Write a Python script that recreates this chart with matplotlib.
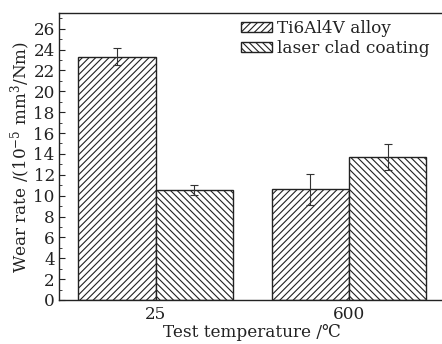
import matplotlib
matplotlib.use("Agg")
import matplotlib.pyplot as plt
import numpy as np
from matplotlib.ticker import MultipleLocator

categories = ["25", "600"]
series_names = ["Ti6Al4V alloy", "laser clad coating"]
ti_values = [23.3, 10.6]
ti_errors = [0.8, 1.5]
laser_values = [10.55, 13.7]
laser_errors = [0.5, 1.2]

plt.rcParams['font.family'] = ['DejaVu Serif']
plt.rcParams['mathtext.fontset'] = 'dejavuserif'
plt.rcParams['hatch.linewidth'] = 0.8
plt.rcParams['hatch.color'] = '#222222'

FS = 12.2

fig = plt.figure(figsize=(4.42, 3.44), dpi=100)
# axes right edge extends past figure (cropped like reference)
ax = fig.add_axes([59/442, (344-300)/344, (445.5-59)/442, (300-13)/344])

x = np.arange(len(categories))
w = 0.4
ax.bar(x - w/2, ti_values, w, yerr=ti_errors, color='white', edgecolor='#222222',
       linewidth=1.0, hatch='/////', label=series_names[0],
       error_kw=dict(ecolor='#333333', elinewidth=0.8, capsize=3, capthick=0.8))
ax.bar(x + w/2, laser_values, w, yerr=laser_errors, color='white', edgecolor='#222222',
       linewidth=1.0, hatch='\\\\\\\\\\', label=series_names[1],
       error_kw=dict(ecolor='#333333', elinewidth=0.8, capsize=3, capthick=0.8))

ax.set_xlim(-0.5, 1.5)
ax.set_ylim(0, 27.5)
ax.set_xticks(x)
ax.set_xticklabels(categories)
ax.yaxis.set_major_locator(MultipleLocator(2))
ax.yaxis.set_minor_locator(MultipleLocator(1))
ax.tick_params(axis='both', which='both', direction='in', labelsize=FS,
               colors='#222222')
ax.tick_params(axis='y', which='major', length=4, pad=3)
ax.tick_params(axis='y', which='minor', length=2.5)
ax.tick_params(axis='x', which='major', length=0, pad=4)
for s in ax.spines.values():
    s.set_color('#222222')
    s.set_linewidth(1.0)
ax.spines['right'].set_visible(False)

ax.set_ylabel("Wear rate /(10$^{-5}$ mm$^3$/Nm)", fontsize=FS, labelpad=0, color='#222222')
ax.set_xlabel("Test temperature /\u2103", fontsize=FS, labelpad=1, color='#222222')

leg = fig.legend(loc='upper left', bbox_to_anchor=(241/442, 1 - 20/344), frameon=False,
                 fontsize=FS, handlelength=1.85, handleheight=0.55,
                 handletextpad=0.3, labelspacing=0.2, borderpad=0.0,
                 borderaxespad=0.0)
for t in leg.get_texts():
    t.set_color('#222222')

fig.savefig("out.png", dpi=100)
